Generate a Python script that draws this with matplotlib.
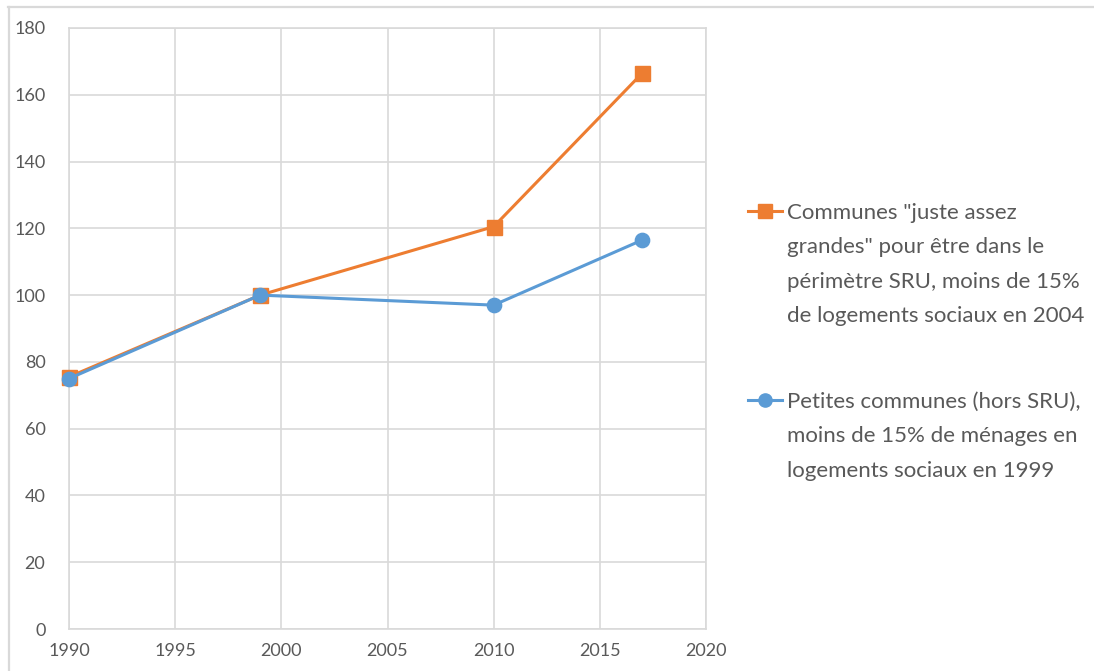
import matplotlib
matplotlib.use("Agg")
import matplotlib.pyplot as plt
from matplotlib.lines import Line2D

plt.rcParams['font.family'] = ['Lato', 'DejaVu Sans']

years = [1990, 1999, 2010, 2017]
sru_values = [75.5, 100, 120.5, 166.5]
small_values = [75, 100, 97, 116.5]
x_ticks = [1990, 1995, 2000, 2005, 2010, 2015, 2020]
y_ticks = [0, 20, 40, 60, 80, 100, 120, 140, 160, 180]
sru_label = ['Communes "juste assez', 'grandes" pour être dans le',
             'périmètre SRU, moins de 15%', 'de logements sociaux en 2004']
small_label = ['Petites communes (hors SRU),', 'moins de 15% de ménages en',
               'logements sociaux en 1999']

ORANGE = '#ED7D31'
BLUE = '#5B9BD5'
GRID = '#D9D9D9'
TXT = '#595959'

W, H = 1094, 671
fig = plt.figure(figsize=(W / 100, H / 100), dpi=100)
ax = fig.add_axes([69 / W, 1 - 629 / H, (706 - 69) / W, (629 - 28) / H])

ax.plot(years, sru_values, color=ORANGE, lw=2.2, marker='s', ms=10.8,
        markeredgecolor=ORANGE, zorder=3, clip_on=False)
ax.plot(years, small_values, color=BLUE, lw=2.2, marker='o', ms=10.3,
        markeredgecolor=BLUE, zorder=4, clip_on=False)

ax.set_xlim(1990, 2020)
ax.set_ylim(0, 180)
ax.set_xticks(x_ticks)
ax.set_yticks(y_ticks)
ax.grid(True, color=GRID, lw=1.2)
ax.set_axisbelow(True)
for s in ax.spines.values():
    s.set_color(GRID)
    s.set_linewidth(1.2)
ax.tick_params(length=0, labelsize=13, colors=TXT)
ax.tick_params(axis='y', pad=17)
ax.tick_params(axis='x', pad=10)

# chart border
fig.add_artist(Line2D([8 / W, 1], [1 - 6.5 / H, 1 - 6.5 / H], color=GRID, lw=1.6,
                      transform=fig.transFigure))
fig.add_artist(Line2D([8.5 / W, 8.5 / W], [0, 1 - 6.5 / H], color=GRID, lw=1.6,
                      transform=fig.transFigure))

# legend
def legend_entry(y0, color, marker, ms, lines):
    fig.add_artist(Line2D([748 / W, 782 / W], [1 - y0 / H, 1 - y0 / H], color=color,
                          lw=2.2, transform=fig.transFigure))
    fig.add_artist(Line2D([765 / W], [1 - y0 / H], color=color, marker=marker, ms=ms,
                          markeredgecolor=color, transform=fig.transFigure))
    for i, t in enumerate(lines):
        fig.text(787 / W, 1 - (y0 + i * 34.3) / H, t, fontsize=16, color=TXT,
                 ha='left', va='center_baseline')

legend_entry(211, ORANGE, 's', 10, sru_label)
legend_entry(400, BLUE, 'o', 9.5, small_label)

fig.savefig('out.png', dpi=100, facecolor='white')
